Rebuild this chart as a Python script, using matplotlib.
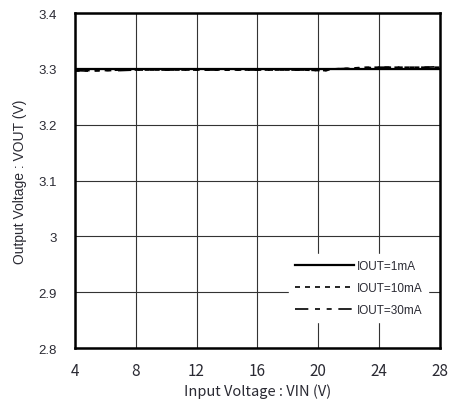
import matplotlib
matplotlib.use('Agg')
import matplotlib.pyplot as plt

# Datos (VIN en V, VOUT en V)
vin = [4, 5, 6, 7, 8, 9, 10, 11, 12, 13, 14, 15, 16, 17, 18, 19, 20, 20.5, 21, 22, 23, 24, 25, 26, 27, 28]
vout_1ma = [3.300, 3.300, 3.300, 3.300, 3.300, 3.300, 3.300, 3.300, 3.300, 3.300, 3.300, 3.300, 3.300,
            3.300, 3.300, 3.300, 3.300, 3.300, 3.300, 3.300, 3.300, 3.300, 3.300, 3.300, 3.300, 3.300]
vout_10ma = [3.296, 3.297, 3.297, 3.298, 3.298, 3.298, 3.298, 3.298, 3.298, 3.298, 3.298, 3.298, 3.298,
             3.298, 3.298, 3.298, 3.297, 3.297, 3.300, 3.301, 3.303, 3.303, 3.303, 3.303, 3.303, 3.303]
vout_30ma = [3.297, 3.296, 3.297, 3.297, 3.298, 3.298, 3.298, 3.298, 3.298, 3.298, 3.298, 3.298, 3.298,
             3.298, 3.298, 3.298, 3.297, 3.297, 3.300, 3.301, 3.302, 3.303, 3.303, 3.303, 3.303, 3.304]
labels = ['IOUT=1mA', 'IOUT=10mA', 'IOUT=30mA']

xticks = [4, 8, 12, 16, 20, 24, 28]
yticks = [2.8, 2.9, 3.0, 3.1, 3.2, 3.3, 3.4]
ytick_labels = ['2.8', '2.9', '3', '3.1', '3.2', '3.3', '3.4']

text_color = '#2a2a33'

fig = plt.figure(figsize=(4.54, 4.14), dpi=100)
ax = fig.add_axes([0.1645, 0.157, 0.805, 0.809])

ax.plot(vin, vout_1ma, color='black', lw=1.6, linestyle='-', label=labels[0], zorder=4)
ax.plot(vin, vout_10ma, color='black', lw=1.2, linestyle=(0, (3, 3)), label=labels[1], zorder=3)
ax.plot(vin, vout_30ma, color='black', lw=1.2, linestyle=(0, (8, 4, 3, 4, 3, 4)), label=labels[2], zorder=3)

ax.set_xlim(4, 28)
ax.set_ylim(2.8, 3.4)
ax.set_xticks(xticks)
ax.set_yticks(yticks)
ax.set_yticklabels(ytick_labels, fontsize=9.5, family='Liberation Sans', color=text_color)
ax.set_xticklabels([str(t) for t in xticks], fontsize=11, family='Noto Sans CJK JP', color=text_color)
ax.tick_params(axis='both', length=0)
ax.tick_params(axis='x', pad=10)
ax.tick_params(axis='y', pad=13)
ax.grid(True, color='#333333', lw=0.8)
ax.set_axisbelow(True)
for s in ax.spines.values():
    s.set_linewidth(1.8)
    s.set_color('black')

ax.set_xlabel('Input Voltage : VIN (V)', fontsize=10.5, family='Noto Sans CJK JP', color=text_color, labelpad=3)
ax.set_ylabel('Output Voltage : VOUT (V)', fontsize=10, family='Liberation Sans', color=text_color, labelpad=8)

leg = ax.legend(loc='lower right', bbox_to_anchor=(0.967, 0.078), borderaxespad=0,
                fontsize=8.5, handlelength=5.0, handletextpad=0.2, labelspacing=0.85,
                frameon=True, fancybox=False, borderpad=0.5)
leg.get_frame().set_facecolor('white')
leg.get_frame().set_edgecolor('white')
leg.get_frame().set_alpha(1)
for t in leg.get_texts():
    t.set_color(text_color)
    t.set_family('Liberation Sans')

fig.savefig('out.png', dpi=100)
